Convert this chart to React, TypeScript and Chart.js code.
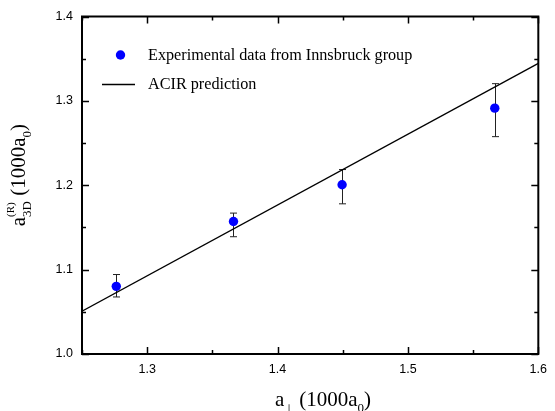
import React, { useEffect, useRef } from "react";
import { Chart, registerables } from "chart.js";

Chart.register(...registerables);

// Experimental data (Innsbruck group)
const expX = [1.2763, 1.3662, 1.4495, 1.5666];
const expY = [1.0802, 1.157, 1.2006, 1.2914];
const errUp = [0.014, 0.010, 0.018, 0.029];
const errDown = [0.0126, 0.018, 0.0226, 0.0338];

// ACIR prediction line
const predX = [1.25, 1.6];
const predY = [1.0507, 1.3445];

// Axes
const xMin = 1.25, xMax = 1.6;
const yMin = 1.0, yMax = 1.4;
const xTickValues = [1.3, 1.4, 1.5, 1.6];
const yTickValues = [1.0, 1.1, 1.2, 1.3, 1.4];
const xMinorValues = [1.25, 1.35, 1.45, 1.55];
const yMinorValues = [1.05, 1.15, 1.25, 1.35];

const legendLabels = ["Experimental data from Innsbruck group", "ACIR prediction"];

const SERIF = '"Liberation Serif", "Times New Roman", serif';
const SANS = '"Liberation Sans", Arial, sans-serif';

type Part = { t: string; size: number; dy: number; stackNext?: boolean; family?: string };

function fontOf(p: Part) {
  return `${p.size}px ${p.family || SERIF}`;
}

function richWidth(ctx: CanvasRenderingContext2D, parts: Part[]) {
  let w = 0;
  let i = 0;
  while (i < parts.length) {
    const p = parts[i];
    ctx.font = fontOf(p);
    let pw = ctx.measureText(p.t).width;
    if (p.stackNext && parts[i + 1]) {
      const q = parts[i + 1];
      ctx.font = fontOf(q);
      pw = Math.max(pw, ctx.measureText(q.t).width);
      i += 2;
    } else i += 1;
    w += pw;
  }
  return w;
}

function drawRich(ctx: CanvasRenderingContext2D, x: number, y: number, parts: Part[]) {
  let cx = x;
  let i = 0;
  ctx.textBaseline = "alphabetic";
  ctx.textAlign = "left";
  while (i < parts.length) {
    const p = parts[i];
    ctx.font = fontOf(p);
    ctx.fillText(p.t, cx, y + p.dy);
    let pw = ctx.measureText(p.t).width;
    if (p.stackNext && parts[i + 1]) {
      const q = parts[i + 1];
      ctx.font = fontOf(q);
      ctx.fillText(q.t, cx, y + q.dy);
      pw = Math.max(pw, ctx.measureText(q.t).width);
      i += 2;
    } else i += 1;
    cx += pw;
  }
}

const decorPlugin = {
  id: "decor",
  beforeDatasetsDraw(chart: any) {
    const ctx = chart.ctx as CanvasRenderingContext2D;
    const xs = chart.scales.x;
    const ys = chart.scales.y;
    ctx.save();
    ctx.strokeStyle = "#222";
    ctx.lineWidth = 1;
    for (let i = 0; i < expX.length; i++) {
      const px = Math.round(xs.getPixelForValue(expX[i])) + 0.5;
      const top = ys.getPixelForValue(expY[i] + errUp[i]);
      const bot = ys.getPixelForValue(expY[i] - errDown[i]);
      ctx.beginPath();
      ctx.moveTo(px, top);
      ctx.lineTo(px, bot);
      ctx.moveTo(px - 3.5, top);
      ctx.lineTo(px + 3.5, top);
      ctx.moveTo(px - 3.5, bot);
      ctx.lineTo(px + 3.5, bot);
      ctx.stroke();
    }
    ctx.restore();
  },
  afterDraw(chart: any) {
    const ctx = chart.ctx as CanvasRenderingContext2D;
    const xs = chart.scales.x;
    const ys = chart.scales.y;
    const a = chart.chartArea;
    ctx.save();
    // frame
    ctx.strokeStyle = "#000";
    ctx.lineWidth = 2;
    ctx.strokeRect(a.left, a.top, a.right - a.left, a.bottom - a.top);
    // inward ticks
    ctx.lineWidth = 1.5;
    const major = 7, minor = 4;
    ctx.beginPath();
    const xt = (v: number, len: number) => {
      const px = Math.round(xs.getPixelForValue(v)) + 0.5;
      ctx.moveTo(px, a.bottom);
      ctx.lineTo(px, a.bottom - len);
      ctx.moveTo(px, a.top);
      ctx.lineTo(px, a.top + len);
    };
    const yt = (v: number, len: number) => {
      const py = Math.round(ys.getPixelForValue(v)) + 0.5;
      ctx.moveTo(a.left, py);
      ctx.lineTo(a.left + len, py);
      ctx.moveTo(a.right, py);
      ctx.lineTo(a.right - len, py);
    };
    xTickValues.forEach((v) => xt(v, major));
    xMinorValues.forEach((v) => xt(v, minor));
    yTickValues.forEach((v) => yt(v, major));
    yMinorValues.forEach((v) => yt(v, minor));
    ctx.stroke();

    // legend
    ctx.fillStyle = "#0000ff";
    ctx.beginPath();
    ctx.arc(a.left + 38.5, a.top + 38.5, 4.7, 0, Math.PI * 2);
    ctx.fill();
    ctx.strokeStyle = "#000";
    ctx.lineWidth = 1.3;
    ctx.beginPath();
    ctx.moveTo(a.left + 20, a.top + 68);
    ctx.lineTo(a.left + 53, a.top + 68);
    ctx.stroke();
    ctx.fillStyle = "#000";
    ctx.font = `16.2px ${SERIF}`;
    ctx.textAlign = "left";
    ctx.textBaseline = "middle";
    ctx.fillText(legendLabels[0], a.left + 66, a.top + 39);
    ctx.fillText(legendLabels[1], a.left + 66, a.top + 68);

    // x title
    const fs = 21;
    const xParts: Part[] = [
      { t: "a", size: fs, dy: 0 },
      { t: "\u22A5", size: 11, dy: 6, family: '"DejaVu Sans", sans-serif' },
      { t: " (1000a", size: fs, dy: 0 },
      { t: "0", size: 13, dy: 6 },
      { t: ")", size: fs, dy: 0 },
    ];
    drawRich(ctx, 275, 406, xParts);

    // y title
    const yParts: Part[] = [
      { t: "a", size: fs, dy: 0 },
      { t: "(R)", size: 11, dy: -11, stackNext: true },
      { t: "3D", size: 13, dy: 6 },
      { t: " (1000a", size: fs, dy: 0 },
      { t: "0", size: 13, dy: 6 },
      { t: ")", size: fs, dy: 0 },
    ];
    const w = richWidth(ctx, yParts);
    ctx.translate(25, 124 + w);
    ctx.rotate(-Math.PI / 2);
    drawRich(ctx, 0, 0, yParts);
    ctx.restore();
  },
};

export default function App() {
  const ref = useRef<HTMLCanvasElement>(null);
  useEffect(() => {
    if (!ref.current) return;
    const chart = new Chart(ref.current, {
      type: "scatter",
      data: {
        datasets: [
          {
            label: legendLabels[1],
            data: predX.map((x, i) => ({ x, y: predY[i] })),
            showLine: true,
            borderColor: "#000",
            borderWidth: 1.3,
            pointRadius: 0,
            fill: false,
          },
          {
            label: legendLabels[0],
            data: expX.map((x, i) => ({ x, y: expY[i] })),
            backgroundColor: "#0000ff",
            borderColor: "#0000ff",
            pointRadius: 4.7,
            pointBorderWidth: 0,
          },
        ],
      },
      options: {
        responsive: false,
        animation: false,
        layout: { padding: { top: 15, right: 12, left: 0, bottom: 0 } },
        plugins: { legend: { display: false }, tooltip: { enabled: false } },
        scales: {
          x: {
            type: "linear",
            min: xMin,
            max: xMax,
            afterBuildTicks: (s: any) => {
              s.ticks = xTickValues.map((v) => ({ value: v }));
            },
            afterFit: (s: any) => {
              s.height = 57;
            },
            grid: { display: false, drawTicks: false },
            border: { display: false },
            ticks: {
              padding: 8,
              color: "#000",
              font: { family: SANS, size: 12.5 },
              callback: (v: any) => Number(v).toFixed(1),
            },
          },
          y: {
            type: "linear",
            min: yMin,
            max: yMax,
            afterBuildTicks: (s: any) => {
              s.ticks = yTickValues.map((v) => ({ value: v }));
            },
            afterFit: (s: any) => {
              s.width = 82;
            },
            grid: { display: false, drawTicks: false },
            border: { display: false },
            ticks: {
              padding: 9,
              color: "#000",
              font: { family: SANS, size: 12.5 },
              callback: (v: any) => Number(v).toFixed(1),
            },
          },
        },
      },
      plugins: [decorPlugin],
    });
    return () => chart.destroy();
  }, []);
  return (
    <canvas
      ref={ref}
      width={555}
      height={411}
      style={{ position: "absolute", left: 0, top: 0, width: 555, height: 411 }}
    />
  );
}
